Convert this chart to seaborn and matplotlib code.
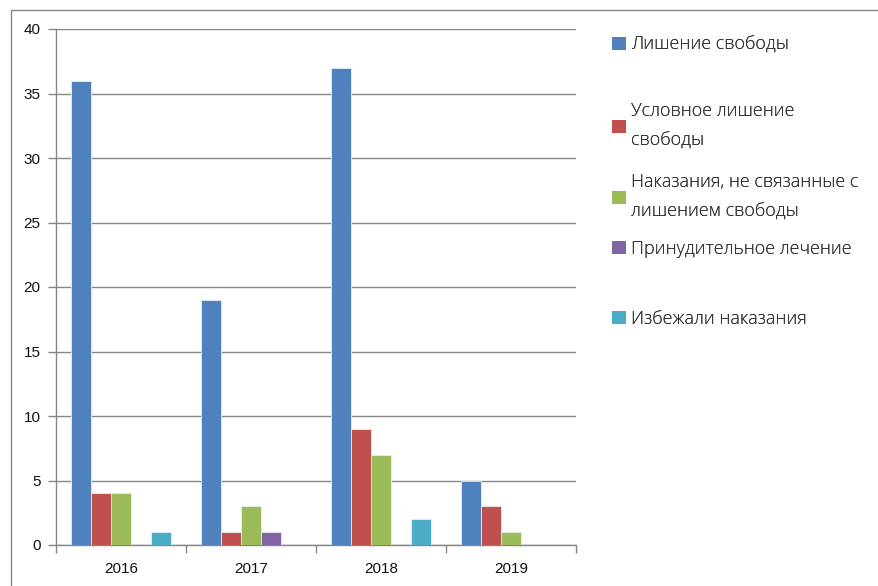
import numpy as np
import pandas as pd
import seaborn as sns
import matplotlib.pyplot as plt
from matplotlib.patches import Patch
from matplotlib.lines import Line2D

years = ["2016", "2017", "2018", "2019"]
series = [
    "Лишение свободы",
    "Условное лишение\nсвободы",
    "Наказания, не связанные с\nлишением свободы",
    "Принудительное лечение",
    "Избежали наказания",
]
prison = [36, 19, 37, 5]
conditional = [4, 1, 9, 3]
non_custodial = [4, 3, 7, 1]
treatment = [0, 1, 0, 0]
avoided = [1, 0, 2, 0]
colors = ["#4F81BD", "#C0504D", "#9BBB59", "#8064A2", "#4BACC6"]
y_ticks = [0, 5, 10, 15, 20, 25, 30, 35, 40]

values = [prison, conditional, non_custodial, treatment, avoided]
rows = []
for name, vals in zip(series, values):
    for yr, v in zip(years, vals):
        rows.append({"year": yr, "series": name, "value": v})
df = pd.DataFrame(rows)

sns.set_style("white")
plt.rcParams["font.family"] = ["Liberation Sans", "DejaVu Sans"]

fig = plt.figure(figsize=(8.79, 5.86), dpi=100)
ax = fig.add_axes([56 / 879, 1 - 545 / 586, 520 / 879, 516 / 586])

sns.barplot(data=df, x="year", y="value", hue="series", hue_order=series,
            palette=colors, saturation=1, width=0.77, ax=ax, legend=False,
            edgecolor="#e8eef6", linewidth=0.6, zorder=3)

ax.set_ylim(0, 40)
ax.set_xlim(-0.5, 3.5)
ax.set_yticks(y_ticks)
ax.set_yticklabels([str(t) for t in y_ticks], fontsize=11, color="#111111")
ax.tick_params(axis="y", length=6, width=1, color="#868686", pad=5, direction="out", left=True)
ax.set_xticks(range(len(years)))
ax.set_xticklabels(years, fontsize=11, color="#111111")
ax.tick_params(axis="x", which="major", length=0, pad=12)
ax.set_xticks(np.arange(-0.5, 4, 1), minor=True)
ax.tick_params(axis="x", which="minor", length=6, width=1, color="#868686",
               direction="out", bottom=True)
ax.yaxis.grid(True, color="#868686", linewidth=1, zorder=0)
ax.set_axisbelow(True)
ax.set_xlabel("")
ax.set_ylabel("")
for side in ["top", "right"]:
    ax.spines[side].set_visible(False)
for side in ["left", "bottom"]:
    ax.spines[side].set_color("#868686")
    ax.spines[side].set_linewidth(1)

# legend entries placed like the original (one per row, uneven spacing)
legend_y = [45, 126, 197, 249, 319]
for name, col, ypix in zip(series, colors, legend_y):
    leg = fig.legend(handles=[Patch(facecolor=col, edgecolor="none")], labels=[name],
                     loc="center left", bbox_to_anchor=(612 / 879, 1 - ypix / 586),
                     frameon=False, handlelength=0.75, handleheight=0.75,
                     handletextpad=0.3, borderpad=0, borderaxespad=0,
                     prop={"family": ["Open Sans", "DejaVu Sans"], "weight": "light",
                           "size": 13})
    for t in leg.get_texts():
        t.set_color("#333333")
        t.set_linespacing(1.9)
    fig.add_artist(leg)

# outer frame of the chart area: left and top edges
fig.add_artist(Line2D([10.5 / 879, 10.5 / 879, 1.0], [0.0, 1 - 9.5 / 586, 1 - 9.5 / 586],
                      transform=fig.transFigure, color="#868686", linewidth=1))

fig.savefig("out.png", dpi=100)
